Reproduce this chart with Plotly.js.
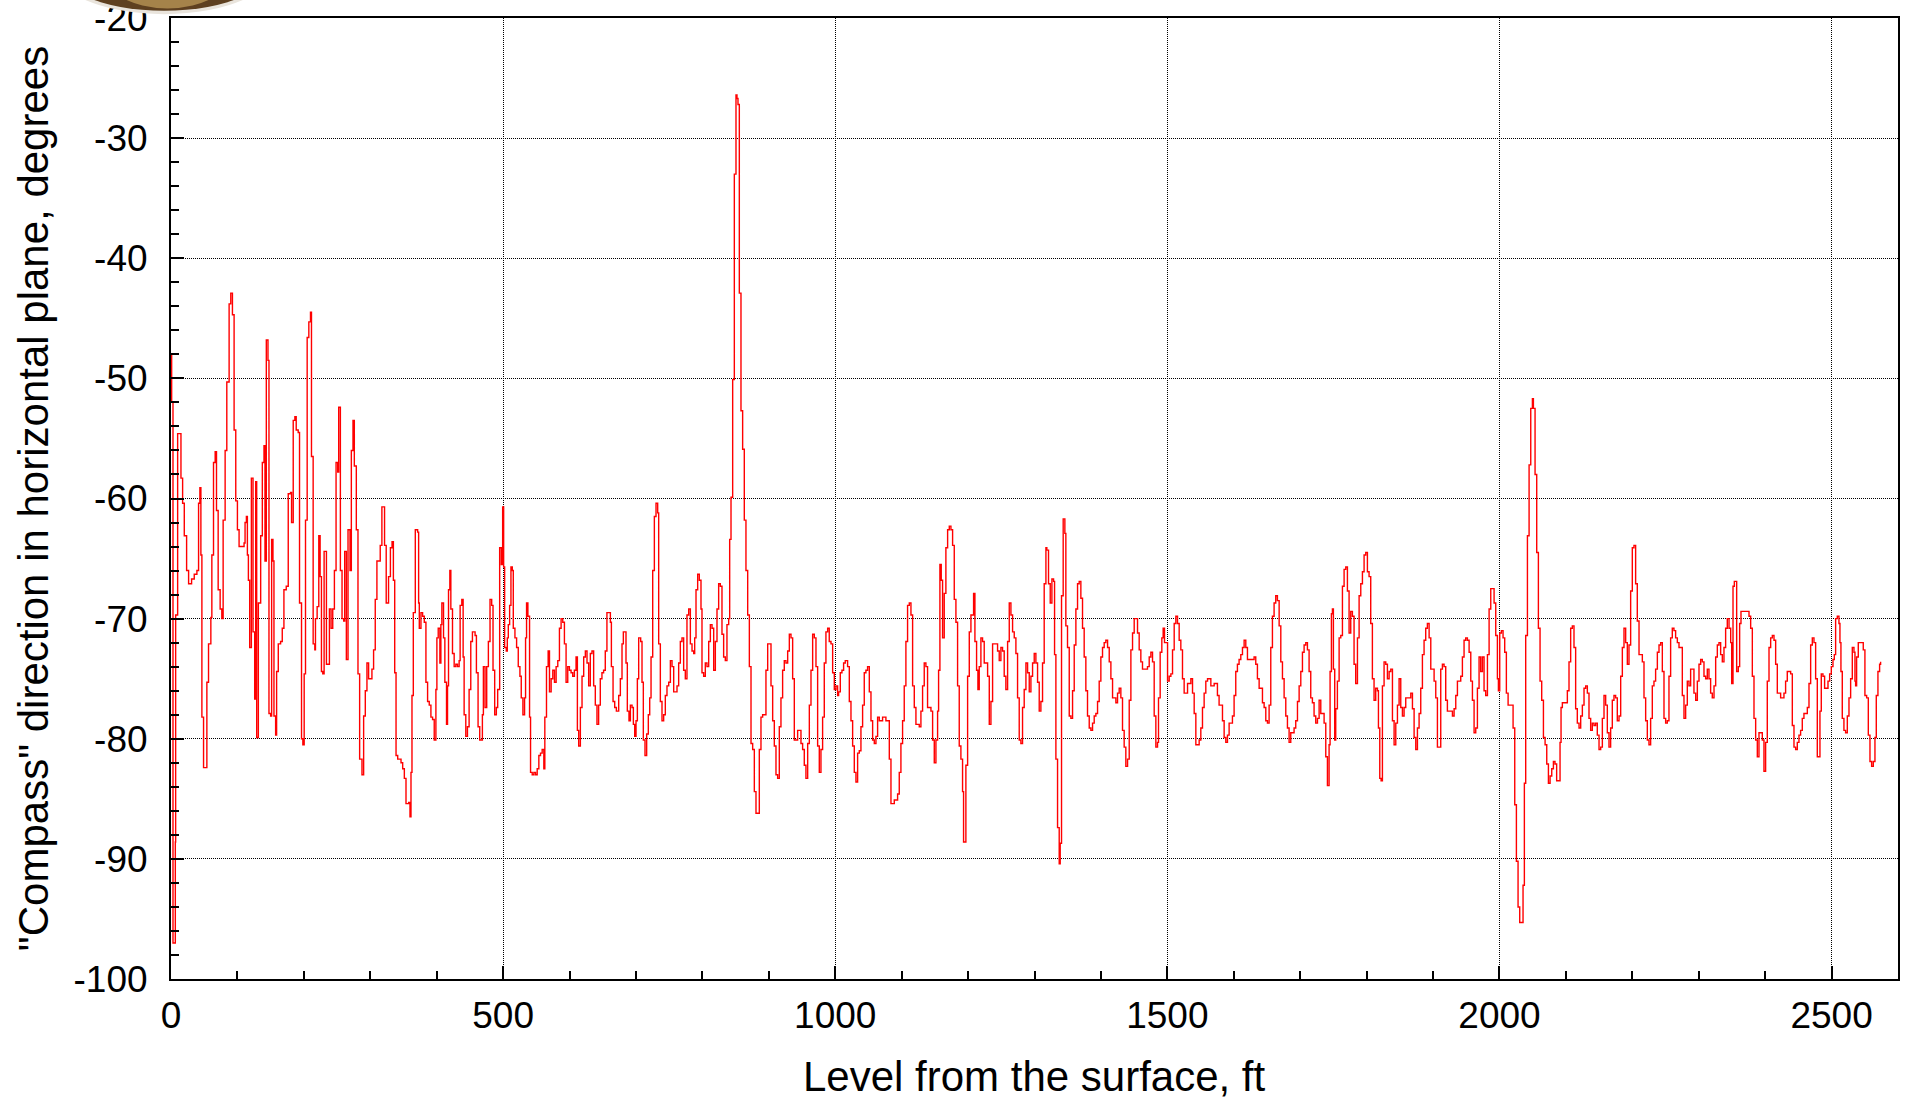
<!DOCTYPE html>
<html>
<head>
<meta charset="utf-8">
<script src="https://cdn.plot.ly/plotly-3.0.1.min.js"></script>
<style>html,body{margin:0;padding:0;background:#fff;}#chart{width:1905px;height:1099px;}</style>
</head>
<body>
<div id="chart"></div>
<script>
// Level from the surface, ft
const depthFt = [
0,1,3,6.5,7,10,15,17.5,20,23.5,26.5,31,35,39,41.5,43.5,45,46.5,49,52.5,54,56.5,60,61.5,64,66.5,68.5,71,74,76.5,78.5,81.5,84,87.5,90,92.5,95,97.5,100,102.5,106.5,110,111.5,113.5,115,116.5,118.5,121,123.5,126,127.5,129,131.5,135,137.5,140,141.5,143.5,146,147.5,150,151.5,153.5,155,157.5,159,161.5,165,167.5,170,173.5,176.5,180,181.5,184,186.5,188.5,191.5,193.5,196.5,198.5,200.5,202.5,205,207.5,210,211.5,214,216.5,217.5,220,222.5,224.5,226.5,228.5,230.5,232.5,234,236.5,238.5,241,243.5,246,248.5,251,252.5,255,257.5,260,261.5,264,266.5,269.5,271.5,274,276,279,281.5,284,287.5,290,292.5,295,297.5,302.5,305,307.5,310,315,317.5,321.5,324,327.5,
330.3,332.8,334.8,336.8,338.8,341.3,346.3,348.8,351.3,353.8,357.8,359.8,361.3,362.8,364.8,367.8,371.3,372.8,373.8,376.3,378.8,381.3,383.8,386.3,388.8,391.3,393.8,396.3,398.8,400.3,402.3,404.8,406.3,407.8,410.3,412.3,414.8,416.3,417.8,419.8,421.3,423.8,426.3,428.8,431.3,433.8,435.3,437.8,439.8,441.3,443.8,446.3,448.8,451.3,453.8,457.8,459.8,462.3,464.8,467.3,468.8,470.3,472.8,475.3,477.8,480.3,482.8,484.8,487.3,489.8,491.8,494.8,497.3,499.3,500.8,502.3,504.8,506.3,507.8,509.8,511.8,513.8,515.3,517.8,520.3,522.8,525.3,527.3,529.8,532.3,533.8,535.3,537.3,539.8,541.3,543.8,546.3,548.8,551.3,553.8,556.3,558.8,561.3,562.8,565.3,567.8,569.8,572.3,574.8,577.3,579.8,582.3,584.8,587.3,589.8,592.3,594.8,597.3,599.8,602.3,604.8,607.3,609.8,611.8,613.8,616.3,618.8,621.3,623.8,626.3,628.8,631.3,633.8,636.3,638.8,641.3,643.8,646.3,648.8,651.3,653.8,656.3,
658.9,661.5,663,665.5,668,670.5,674,676.5,679,681,683.5,685,687,689.5,691.6,694.1,696.1,698.1,700.1,702.1,704.1,707.1,709.1,711.1,713.6,716.1,718.6,720.7,722.7,725.2,727.7,730.2,732.7,734.2,736.7,739.2,741.7,744.2,746.7,749.3,751.8,754.3,756.8,759.3,761.8,764.3,766.8,769.3,771.8,774.3,776.8,779.4,781.9,784.4,786.9,788.4,790.4,792.9,795.4,797.9,799.4,801.9,804.4,806.9,809.5,812,814.5,817,819.5,822,824.5,827,829.5,832,834.5,837,839.6,841.1,843.1,845.6,848.1,850.6,852.1,853.6,855.6,858.1,860.6,863.1,865.6,868.2,870.7,873.2,875.7,878.2,880.7,883.2,885.7,888.2,890.7,893.2,895.7,898.3,900.8,903.3,905.8,908.3,910.8,913.3,915.8,918.3,920.8,923.3,925.8,928.4,930.9,933.4,935.9,938.4,940.9,943.4,945.9,948.4,950.9,953.4,955.9,958.5,961,963.5,966,968.5,971,973.5,976,978.5,981,983.5,986,988.6,
991,993.6,996.1,998.6,1001.1,1003.6,1005.1,1007.6,1010.1,1012.6,1015.1,1018.6,1021.2,1023.7,1026.2,1028.7,1031.2,1033.7,1036.2,1038.7,1041.2,1043.7,1046.2,1048.7,1051.3,1053.8,1056.3,1058.8,1061.3,1063.8,1066.3,1071.3,1076.3,1078.8,1081.4,1083.9,1088.9,1093.9,1096.4,1098.9,1101.4,1103.9,1106.4,1108.9,1111.5,1114,1116.5,1119,1121.5,1126.5,1129,1131.5,1134,1136.5,1139,1144.1,1146.6,1149.1,1151.6,1154.1,1155.6,1157.6,1159.6,1161.6,1164.1,1166.6,1169.2,1171.7,1174.2,1176.7,1179.2,1181.7,1184.2,1186.7,1189.2,1191.7,1193.2,1195.2,1196.7,1199.3,1201.8,1204.3,1206.8,1208.3,1210.3,1212.8,1214.8,1216.8,1219.3,1221.8,1224.3,1229.4,1231.9,1234.4,1236.9,1241.9,1244.4,1246.9,1249.4,1251.9,1254.4,1256.9,1259.5,1262,1264.5,1267,1269.5,1272,1274.5,1277,1279.5,1282,1284.5,1287.1,1289.6,1292.1,1294.6,1297.1,1299.6,1302.1,1304.6,1307.1,1309.6,1312.1,1314.6,1317.2,
1318.6,1321.1,1323.7,1326.2,1328.7,1330.2,1332.2,1334.7,1337.2,1338.7,1340.7,1343.2,1345.7,1347.2,1349.7,1352.3,1354.8,1357.3,1359.8,1362.3,1364.8,1367.3,1369.8,1372.3,1374.8,1377.3,1379.8,1382.4,1384.9,1387.4,1389.9,1392.4,1394.9,1397.4,1399.9,1402.4,1404.9,1407.4,1410,1412.5,1415,1417.5,1422.5,1425,1427.5,1430,1432.5,1435,1437.5,1440.1,1442.6,1445.1,1447.6,1450.1,1452.6,1455.1,1457.6,1460.1,1462.6,1470.1,1472.7,1475.2,1477.7,1480.2,1482.7,1485.2,1486.7,1489.2,1491.7,1493.7,1495.7,1497.7,1500.3,1502.8,1505.3,1507.8,1510.3,1512.8,1515.3,1517.8,1520.3,1522.8,1525.3,1527.8,1530.4,1535.4,1537.9,1540.4,1542.9,1545.4,1547.9,1550.4,1552.9,1555.4,1557.9,1560.5,1565.5,1570.5,
1572.9,1575.4,1577.9,1583,1585.5,1588,1590.5,1593,1598,1600.5,1603,1605.5,1608,1610.6,1613.1,1615.6,1618.1,1620.6,1630.6,1633.1,1635.6,1638.2,1640.7,1643.2,1645.7,1648.2,1650.7,1653.2,1655.7,1658.2,1660.7,1663.2,1665.7,1668.3,1670.8,1673.3,1675.8,1678.3,1680.8,1683.3,1685.8,1690.8,1693.3,1695.9,1698.4,1700.9,1703.4,1705.9,1708.4,1710.9,1713.4,1715.9,1718.4,1720.9,1723.4,1726,1728.5,1731,1736,1738.5,1741,1743.5,1745,1747,1748.5,1750,1752,1753.5,1756,1758.6,1761.1,1763.6,1766.1,1768.6,1771.1,1773.6,1776.1,1778.6,1781.1,1783.6,1786.2,1788.7,1791.2,1793.7,1796.2,1798.7,1801.2,1803.7,1806.2,1808.7,1811.2,1813.7,1816.3,1817.8,1819.8,1821.8,1823.8,1826.3,
1828.8,1831.3,1833.9,1836.4,1838.9,1841.4,1843.9,1846.4,1848.9,1851.4,1853.9,1856.4,1858.9,1866.5,1869,1871.5,1874,1876.5,1879,1881.5,1884,1886.5,1889,1891.5,1894.1,1896.6,1901.6,1904.1,1906.6,1909.1,1911.6,1914.1,1916.6,1919.1,1921.6,1929.2,1931.7,1934.2,1936.7,1941.7,1944.2,1946.7,1949.2,1951.7,1954.3,1956.8,1959.3,1961.8,1964.3,1966.8,1969.3,1971.8,1974.3,1976.8,1979.3,1981.9,1984.4,1986.9,1989.4,1991.9,1994.4,1996.9,1998.4,2000.4,2002.9,2005.4,2007.9,2010.4,2013,2018,2020.5,2023,2025.5,2028,2030.5,2033,2035.5,2037.5,2039.5,2042.1,2044.6,2047.1,2049.6,2051.1,2053.6,2056.1,2058.6,2061.1,2063.6,2066.2,2068.7,2071.2,2073.7,2076.2,2078.7,2081.2,
2083.6,2086.1,2088.6,2091.2,2092.7,2094.7,2099.7,2102.2,2104.7,2107.2,2109.7,2112.2,2114.7,2117.2,2119.8,2122.3,2124.8,2127.3,2129.8,2132.3,2134.8,2137.3,2139.8,2142.3,2144.8,2147.3,2149.9,2152.4,2154.9,2157.4,2159.9,2162.4,2164.9,2167.4,2169.9,2172.4,2174.9,2177.4,2180,2182.5,2185,2187.5,2190,2192.5,2195,2197.5,2200,2202.5,2205,2207.5,2210.1,2215.1,2217.6,2220.1,2222.6,2225.1,2227.6,2230.1,2232.6,2235.1,2237.7,2240.2,2242.7,2245.2,2247.7,2250.2,2252.7,2255.2,2257.7,2260.2,2262.7,2265.2,2267.8,2270.3,2272.8,2275.3,2277.8,2280.3,2282.8,2285.3,2287.8,2290.3,2292.8,2295.4,2297.9,2300.4,2302.9,2305.4,2307.9,2310.4,2312.9,2315.4,2317.9,2320.4,2323,2325.5,2328,2330.5,2333,2335.5,
2338,2340.5,2343,2345.6,2348.1,2349.6,2351.6,2353.6,2355.6,2357.1,2359.6,2361.6,2363.6,2375.7,2378.2,2380.7,2383.2,2385.7,2388.2,2390.7,2395.7,2398.2,2400.7,2403.2,2405.8,2408.3,2410.8,2413.3,2415.8,2418.3,2423.3,2428.3,2430.8,2433.3,2438.4,2440.9,2443.4,2445.9,2448.4,2450.9,2453.4,2455.9,2458.4,2463.5,2466,2468.5,2471,2473.5,2476,2478.5,2481,2482.5,2484.5,2487,2489.5,2494.6,2497.1,2499.6,2502.1,2504.1,2506.1,2508.6,2511.1,2512.6,2514.1,2516.1,2518.6,2521.1,2523.7,2526.2,2528.7,2531.2,2533.7,2535.2,2536.2,2537.7,2540.2,2545.2,2547.7,2550.2,2552.8,2555.3,2557.8,2560.3,2562.8,2565.3,2567.3,2569.8,2572.3,2573.8
];
// "Compass" direction in horizontal plane, degrees
const compassDeg = [
-48,-52,-97,-88.6,-69.7,-54.6,-58.3,-60.4,-63.1,-66,-67.1,-66.7,-66.3,-66,-60.4,-59.1,-64.7,-78.2,-82.4,-82.4,-75.3,-72.1,-69.9,-64.7,-57,-56.1,-61,-67.6,-69.2,-70,-61.8,-56,-50.3,-43.8,-42.9,-44.7,-54.3,-60.2,-62.6,-64,-64,-63.7,-62,-61.5,-64.7,-66.8,-72.4,-58.3,-71.1,-76.7,-58.6,-79.9,-68.7,-63.1,-57,-55.6,-65.2,-46.8,-48.5,-77.9,-78.1,-63.4,-65.2,-78.1,-79.7,-74.4,-72.1,-71.9,-70.8,-67.6,-67.3,-59.6,-59.5,-62,-53.5,-53.2,-54.3,-54.5,-68.7,-80,-80.5,-74.6,-61.8,-46.6,-45.3,-44.5,-56.5,-72.1,-72.6,-70,-69,-63.1,-66.5,-74.4,-74.6,-64.4,-64.4,-73.8,-73.8,-69.2,-70.8,-69.2,-66,-57,-57.8,-52.4,-66,-70,-70.2,-64.4,-73.4,-62.6,-66,-56,-53.5,-57.3,-62.6,-74.6,-81.7,-83,-78.1,-76,-73.7,-75,-74.2,-72.6,-68.4,-65.2,-63.9,-60.7,-63.9,-68.7,-66.5,
-64.1,-63.6,-66.8,-74.5,-81.4,-81.7,-82,-82.5,-83.3,-85.4,-85.3,-86.5,-82.8,-76.4,-69.5,-62.6,-62.8,-68.7,-70.8,-69.5,-69.8,-70.3,-75.3,-76.9,-77.2,-78.2,-78.4,-80.1,-75.9,-71.6,-70.8,-73.7,-70.5,-68.7,-71.6,-75.3,-78.8,-75.6,-67.6,-66,-69.2,-72.9,-74,-73.8,-74,-73.5,-68.9,-68.4,-73.2,-78,-79.8,-79,-75.9,-71.9,-71.1,-71.4,-74.5,-79,-80.1,-80.1,-78,-74,-77.4,-74,-71.9,-68.4,-68.9,-74.3,-78,-77.4,-75.9,-64.1,-65.5,-60.7,-65.7,-72.4,-72.7,-71.6,-70.5,-68.9,-65.7,-66,-70.8,-71.6,-72.4,-74,-74.8,-76.6,-78,-76.6,-71.6,-68.7,-69.8,-78.2,-82.8,-83,-82.8,-83,-82.5,-81.4,-81.2,-80.9,-82.5,-78.2,-74,-72.7,-76.1,-75,-74.3,-75.3,-74,-73.5,-70.8,-70,-70.3,-72.1,-75.3,-74,-74.3,-74.5,-74.8,-74.3,-73.2,-79.3,-80.6,-77.4,-74.8,-73.2,-72.7,-73.7,-75.6,-72.9,-72.7,-75.6,-77.2,-78.8,-77.2,-75,-74.5,-74.3,-72.7,-69.5,
-69.5,-70.3,-74,-76.9,-77.4,-77.7,-76.4,-75,-72.1,-71.1,-71.1,-73.7,-77.7,-78.5,-77.2,-77.4,-78.8,-79.8,-78.5,-75,-71.6,-71.9,-75.3,-80.1,-81.4,-79.6,-78,-76.6,-73.2,-66,-61.5,-60.4,-61.2,-72.1,-76.9,-78.5,-78,-76.4,-75.6,-75.3,-73.5,-74,-76.1,-76.1,-75.6,-73.7,-71.9,-71.6,-74.3,-75,-69.7,-69.2,-72.1,-72.7,-72.9,-71.6,-67.6,-66.3,-66.8,-69.2,-74.5,-74.8,-73.7,-74,-71.9,-70.5,-70.8,-74.3,-71.9,-69.2,-67.1,-67.3,-71.3,-73.2,-73.5,-70.5,-70,-63.4,-59.9,-50.1,-33,-26.4,-26.7,-27.2,-42.9,-52.7,-55.9,-61.8,-66,-69.7,-74,-80.4,-80.9,-84.4,-86.2,-86.2,-80.9,-78.2,-78,-78,-74.3,-72.1,-72.1,-75.6,-78.5,-80.6,-83,-83.3,-79,-76.6,-74.3,-73.5,-73.7,-72.7,-71.3,-71.6,-75,-80.1,-80.1,-79.3,-79.3,-80.4,-80.9,-82.2,-83.3,-80.4,-77.2,-74.3,-71.3,-71.6,-74,-80.6,-82.8,-80.9,-78.2,-73.7,-71.1,-70.8,
-71.9,-72.1,-74.5,-75.9,-75.6,-76.4,-76.1,-74.5,-74.3,-73.7,-73.5,-74,-76.9,-78.5,-80.6,-82.8,-83.6,-81.2,-81,-79,-77.2,-74.5,-74.3,-74,-76.1,-78.5,-80.1,-80.4,-79.8,-78.2,-78.5,-78.2,-78.5,-78.5,-81.7,-85.4,-85.1,-84.6,-82.8,-80.4,-78.5,-75.6,-71.9,-68.9,-68.7,-69.7,-75.6,-77.4,-78.8,-79,-77.7,-75.6,-73.7,-74,-77.4,-77.7,-80.1,-82,-80.1,-77.7,-74.3,-65.5,-66.8,-71.6,-67.9,-64.1,-62.6,-62.3,-62.6,-63.9,-68.4,-70.3,-75.6,-80.6,-81.7,-84.4,-88.6,-88.6,-82.2,-74.8,-71.1,-69.7,-69.7,-67.9,-71.9,-74.3,-75.9,-74,-71.6,-71.9,-73.7,-74.8,-78.8,-76.9,-72.1,-72.1,-72.7,-73.5,-72.4,-72.7,-74.8,-75.9,-71.9,-68.7,-69.7,-71.1,-71.6,-72.9,-76.6,-80.1,-80.4,-77.4,-75.9,-73.7,-74.5,-76.1,-74.8,-73.7,-72.9,-73.7,-75.3,-77.7,-76.9,-73.7,-67.1,-64.1,
-64.3,-67.1,-68.7,-66.7,-66.9,-73,-81.7,-87.4,-90.4,-88.7,-68.1,-61.7,-62.9,-70.6,-72.4,-78.1,-78.3,-76,-72.2,-69.2,-67.1,-66.9,-68.3,-70.8,-73.2,-76,-78.1,-79.1,-79.3,-78.7,-78.1,-77.9,-76.9,-75.2,-73.2,-72.4,-72,-71.8,-72.4,-73.6,-75,-76.6,-77,-76.2,-75.8,-76.6,-79.3,-80.7,-82.3,-81.7,-76.8,-72.6,-71.2,-70,-70,-71.2,-72.6,-73.6,-74.2,-74,-73.2,-72.8,-73.6,-78.1,-80.7,-80.3,-76.6,-72.8,-71.6,-70.8,-72,-72,-75.2,-74.8,-74.6,-72.6,-70.4,-69.8,-70.4,-71.8,-72.6,-75,-76.2,-76.2,-75.4,-75,-76.2,-77.9,-80.5,-80.5,-80.1,-79.1,-77.4,-76.2,-75.2,-75,-75.6,-75.4,
-75.4,-76.4,-77.2,-78.5,-79.9,-80.3,-79.7,-78.7,-78.1,-76.4,-74.4,-73.8,-73.4,-73,-72.4,-71.8,-72.4,-73.4,-73.2,-73.8,-75,-75.8,-75.8,-77,-77.4,-78.5,-78.7,-77.2,-72.4,-69.8,-68.7,-68.1,-68.5,-70.6,-73.6,-75,-76.6,-78.1,-79.1,-80.3,-79.5,-79.1,-78.5,-76.9,-75.6,-74.4,-72.8,-72.2,-72,-72.6,-74.4,-76.6,-77,-78.1,-78.7,-78.3,-76.8,-77.9,-78.7,-81.5,-83.9,-80.5,-74.4,-69.6,-69.2,-74.2,-80.1,-77.5,-75.2,-71.6,-71.4,-67.3,-65.9,-65.7,-67.7,-71.2,-69.4,-69.8,-73.8,-75.4,-71.6,-68.1,-67.1,-66.1,-64.7,-64.5,-66.1,-66.5,-70.4,-75,-76.8,-75.8,-76,-79.1,-83.3,-83.5,-75.6,-73.6,
-73.8,-75,-74.4,-74.2,-78.5,-80.5,-78.7,-77.2,-75,-77.4,-78.1,-77.4,-76.6,-76.2,-77.5,-79.9,-80.9,-79.1,-77.9,-75.8,-73,-71.8,-70.8,-70.4,-71.6,-74.2,-75.2,-76.6,-80.7,-80.7,-74.2,-73.8,-74,-76.8,-77.7,-78.1,-77.5,-76.4,-75.2,-74.8,-73.2,-71.8,-71.6,-71.8,-72.8,-75.2,-76.8,-79.5,-79.1,-75.8,-73.2,-74.4,-73.2,-76,-76.4,-73,-69.2,-67.5,-67.5,-68.7,-71.4,-75,-76,-71.2,-71,-71.6,-72.8,-76.2,-77.2,-77.2,-79.1,-85.5,-90.2,-94,-95.3,-95.3,-92.2,-83.7,-71.4,-63.1,-57.2,-52.5,-51.7,-52.5,-58,-64.5,-70.8,-75.2,-76.8,-79.9,-80.5,-82.1,-83.7,-83.1,-82.5,-81.9,
-82.1,-83.5,-83.5,-80.3,-77.4,-77,-77,-76,-73.6,-70.8,-70.6,-72.4,-77.5,-78.7,-79.1,-78.1,-77.2,-75.8,-75.6,-76.2,-78.3,-79.3,-78.7,-78.9,-78.7,-79.7,-80.9,-80.7,-78.3,-76.4,-77.2,-79.5,-80.7,-79.1,-76.8,-76.4,-76.6,-78.5,-78.1,-74.8,-72.4,-70.8,-72,-73.8,-72.2,-67.7,-64.1,-63.9,-67.1,-70.2,-73,-73.6,-76.6,-78.5,-80.1,-80.5,-78.3,-75.6,-75.2,-74.2,-72.8,-72.2,-72,-74.4,-78.3,-78.7,-78.5,-74.8,-71.6,-70.8,-71,-71.6,-72,-72.4,-72.4,-76.4,-78.3,-77.2,-75.2,-75.6,-74.2,-74.2,-76.2,-76.8,-75.2,-73.8,-73.4,-73.6,-74.8,-75,-74.2,-75,-76.2,-76.6,-75.6,-73.2,-72.2,-72,-73,-73.6,
-72.4,-70.8,-70,-70.8,-72,-75.4,-67.3,-66.9,-66.9,-74.4,-74,-70.4,-69.4,-69.8,-70.8,-74.8,-78.3,-80.1,-81.5,-79.5,-80.1,-82.7,-80.3,-75.2,-72.4,-71.6,-71.4,-71.8,-73.8,-76.2,-76.6,-76.2,-75.2,-74.4,-74.6,-78.9,-80.7,-80.9,-80.3,-79.7,-79.3,-78.3,-77.9,-77.4,-75.4,-72.2,-71.6,-72,-75,-81.5,-81.5,-77.7,-74.6,-74.8,-75.8,-75.2,-74.6,-74,-73.4,-73,-70,-69.8,-70.4,-72,-74.4,-78.3,-79.3,-79.5,-78.1,-76.6,-75,-72.4,-72.8,-75.2,-75.6,-73.2,-72,-72,-72.6,-76.4,-76.6,-79.7,-81.9,-82.3,-81.9,-79.9,-76.4,-74.4,-73.8,-73.6
];

const xTickVals = [0, 500, 1000, 1500, 2000, 2500];
const yTickVals = [-20, -30, -40, -50, -60, -70, -80, -90, -100];
const xTitle = 'Level from the surface, ft';
const yTitle = '"Compass" direction in horizontal plane, degrees';

const axisFont = {family: 'Liberation Sans, Arial, sans-serif', size: 37, color: '#000'};
const titleFont = {family: 'Liberation Sans, Arial, sans-serif', size: 42, color: '#000'};

const trace = {
  x: depthFt,
  y: compassDeg,
  type: 'scatter',
  mode: 'lines',
  line: {color: '#ff0000', width: 1.4, shape: 'hv'},
  hoverinfo: 'x+y'
};

const layout = {
  width: 1905,
  height: 1099,
  paper_bgcolor: '#ffffff',
  plot_bgcolor: '#ffffff',
  margin: {l: 171, r: 7, t: 18, b: 120},
  showlegend: false,
  xaxis: {
    range: [0, 2600],
    tickvals: xTickVals,
    ticktext: xTickVals.map(String),
    ticks: 'inside',
    ticklen: 13,
    tickwidth: 2,
    tickcolor: '#000',
    showline: true,
    linecolor: '#000',
    linewidth: 2,
    mirror: true,
    showgrid: true,
    gridcolor: '#000',
    gridwidth: 1,
    griddash: '1px,1px',
    zeroline: false,
    tickfont: axisFont,
    ticklabelstandoff: 3,
    ticklabeloverflow: 'allow',
    minor: {dtick: 100, ticks: 'inside', ticklen: 8, tickwidth: 2, tickcolor: '#000', showgrid: false}
  },
  yaxis: {
    range: [-100, -20],
    tickvals: yTickVals,
    ticktext: yTickVals.map(String),
    ticks: 'inside',
    ticklen: 13,
    tickwidth: 2,
    tickcolor: '#000',
    showline: true,
    linecolor: '#000',
    linewidth: 2,
    mirror: true,
    showgrid: true,
    gridcolor: '#000',
    gridwidth: 1,
    griddash: '1px,1px',
    zeroline: false,
    tickfont: axisFont,
    ticklabelstandoff: 14,
    ticklabeloverflow: 'allow',
    minor: {dtick: 2, ticks: 'inside', ticklen: 8, tickwidth: 2, tickcolor: '#000', showgrid: false},
    title: {text: yTitle, font: titleFont, standoff: 12}
  },
  annotations: [
    {text: xTitle, xref: 'paper', yref: 'paper', x: 0.5, y: -0.1015, xanchor: 'center', yanchor: 'middle',
     showarrow: false, font: titleFont}
  ],
  shapes: [
    {type: 'circle', xref: 'paper', yref: 'paper', x0: -0.072, x1: 0.064, y0: 1.004, y1: 1.118,
     fillcolor: '#e9e4dc', line: {width: 0}, layer: 'above'},
    {type: 'circle', xref: 'paper', yref: 'paper', x0: -0.070, x1: 0.062, y0: 1.0075, y1: 1.1145,
     fillcolor: '#5e4020', line: {width: 0}, layer: 'above'},
    {type: 'circle', xref: 'paper', yref: 'paper', x0: -0.040, x1: 0.036, y0: 1.010, y1: 1.09,
     fillcolor: '#a5834a', line: {width: 0}, layer: 'above'}
  ]
};

Plotly.newPlot('chart', [trace], layout, {displayModeBar: false, staticPlot: true});
</script>
</body>
</html>
